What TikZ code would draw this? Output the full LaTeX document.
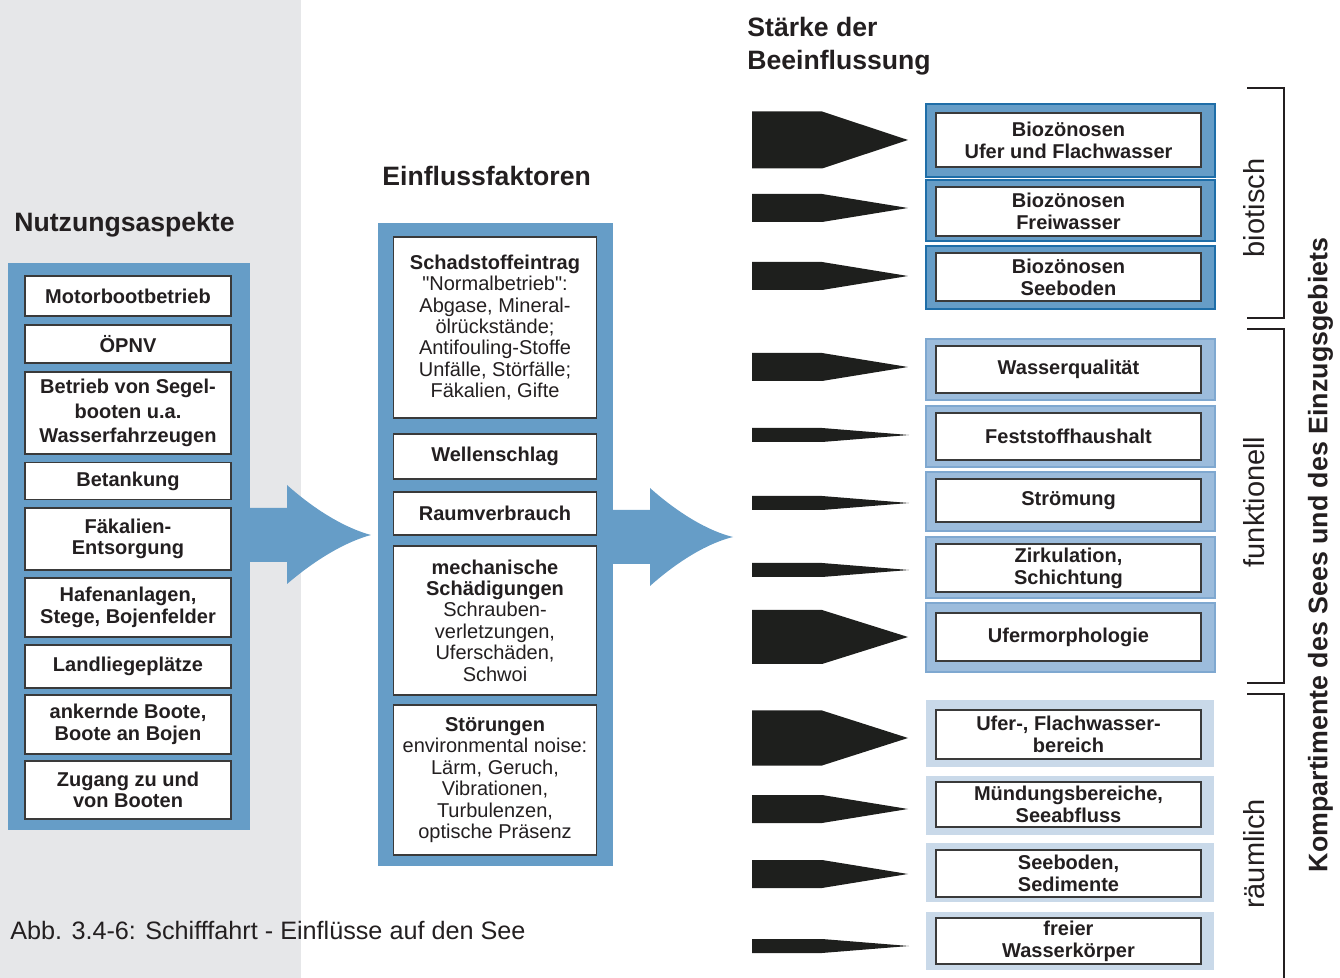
\documentclass[tikz,border=0pt]{standalone}
\usepackage{fontspec}
\setmainfont{Liberation Sans}
\newfontfamily\plainquote{Liberation Sans}

\definecolor{steelblue}{HTML}{669DC7}
\definecolor{bggrey}{HTML}{E6E7E9}
\definecolor{ink}{HTML}{231F20}
\definecolor{boxline}{HTML}{3A3A3A}
\definecolor{darkedge}{HTML}{1F6EA8}
\definecolor{midfill}{HTML}{9CBCDC}
\definecolor{midedge}{HTML}{7FA8D0}
\definecolor{palefill}{HTML}{C9D9E9}
\definecolor{wedgeblack}{HTML}{1E1F1D}

\begin{document}
\begin{tikzpicture}[
  x=0.5pt, y=-0.5pt,
  panel/.style={fill=steelblue, inner sep=0pt},
  lbox/.style={draw=boxline, line width=0.7pt, fill=white, inner sep=0pt,
    minimum width=103pt, align=center, text=ink,
    font=\fontsize{10}{10.8}\selectfont\bfseries},
  mbox/.style={lbox, minimum width=101.5pt, font=\fontsize{10}{10.7}\selectfont},
  rbox/.style={lbox, minimum width=132.5pt, font=\fontsize{10}{11}\selectfont\bfseries},
  bioframe/.style={fill=steelblue, draw=darkedge, line width=1pt, inner sep=0pt, minimum width=144.5pt},
  funframe/.style={fill=midfill, draw=midedge, line width=1pt, inner sep=0pt, minimum width=144.5pt},
  raumframe/.style={fill=palefill, inner sep=0pt, minimum width=144pt},
  heading/.style={anchor=base west, inner sep=0pt, text=ink, font=\fontsize{13.3}{16.5}\selectfont\bfseries},
  sidelbl/.style={rotate=90, inner sep=0pt, text=ink, font=\fontsize{14.5}{16}\selectfont},
  impact/.style={fill=wedgeblack},
  bracket/.style={draw=ink, line width=1pt}
]
  \useasboundingbox (0,0) rectangle (1340,978);
  \fill[bggrey] (0,0) rectangle (301,978);

  % Nutzungsaspekte
  \node[heading] (nutz) at (14,231.5) {Nutzungsaspekte};
  \node[panel, minimum width=121pt, minimum height=283.5pt] (usepanel) at (129,546.5) {};
  \node[lbox, minimum height=20pt] (motor) at (128,296) {Motorbootbetrieb};
  \node[lbox, minimum height=19pt] (opnv) at (128,344) {ÖPNV};
  \node[lbox, minimum height=41pt, font=\fontsize{10}{12.2}\selectfont\bfseries] (segel) at (128,413) {Betrieb von Segel-\\booten u.a.\\Wasserfahrzeugen};
  \node[lbox, minimum height=18.5pt] (tank) at (128,481) {Betankung};
  \node[lbox, minimum height=31pt] (faek) at (128,539) {Fäkalien-\\Entsorgung};
  \node[lbox, minimum height=29.5pt] (hafen) at (128,607.5) {Hafenanlagen,\\Stege, Bojenfelder};
  \node[lbox, minimum height=21.5pt] (land) at (128,666.5) {Landliegeplätze};
  \node[lbox, minimum height=29.5pt] (anker) at (128,724.5) {ankernde Boote,\\Boote an Bojen};
  \node[lbox, minimum height=29pt] (zugang) at (128,790) {Zugang zu und\\von Booten};

  % broad arrow to the factors
  \fill[steelblue] (250,508) -- (287,508) -- (287,485)
    .. controls (315,510) and (345,528) .. (371,535)
    .. controls (345,542) and (315,560) .. (287,584) -- (287,562) -- (250,562) -- cycle;

  % Einflussfaktoren
  \node[heading] (einfl) at (382,185.5) {Einflussfaktoren};
  \node[panel, minimum width=117.5pt, minimum height=321.5pt] (faktpanel) at (495.5,544.5) {};
  \node[mbox, minimum height=90.5pt] (schad) at (495,327.5) {\textbf{Schadstoffeintrag}\\{\plainquote"}Normalbetrieb{\plainquote"}:\\Abgase, Mineral-\\ölrückstände;\\Antifouling-Stoffe\\Unfälle, Störfälle;\\Fäkalien, Gifte};
  \node[mbox, minimum height=22.5pt] (wellen) at (495,456.5) {\textbf{Wellenschlag}};
  \node[mbox, minimum height=21.5pt] (raum) at (495,513.5) {\textbf{Raumverbrauch}};
  \node[mbox, minimum height=74.5pt] (mech) at (495,620.5) {\textbf{mechanische}\\\textbf{Schädigungen}\\Schrauben-\\verletzungen,\\Uferschäden,\\Schwoi};
  \node[mbox, minimum height=75pt] (stoer) at (495,780) {\textbf{Störungen}\\environmental noise:\\Lärm, Geruch,\\Vibrationen,\\Turbulenzen,\\optische Präsenz};

  % broad arrow to the compartments
  \fill[steelblue] (613,510) -- (650,510) -- (650,488)
    .. controls (678,513) and (708,531) .. (733,537)
    .. controls (708,543) and (678,561) .. (650,586) -- (650,564) -- (613,564) -- cycle;

  % Staerke der Beeinflussung
  \node[heading] (staerke) at (747,36.5) {Stärke der};
  \node[heading] (beein) at (747,69.5) {Beeinflussung};
  \fill[impact] (752,111.5) -- (822,111.5) -- (908,140) -- (822,168.5) -- (752,168.5) -- cycle;
  \fill[impact] (752,194) -- (822,194) -- (908,208) -- (822,222) -- (752,222) -- cycle;
  \fill[impact] (752,262) -- (822,262) -- (908,276) -- (822,290) -- (752,290) -- cycle;
  \fill[impact] (752,353) -- (822,353) -- (908,367) -- (822,381) -- (752,381) -- cycle;
  \fill[impact] (752,428) -- (822,428) -- (909,435) -- (822,442) -- (752,442) -- cycle;
  \fill[impact] (752,496) -- (822,496) -- (909,503) -- (822,510) -- (752,510) -- cycle;
  \fill[impact] (752,563) -- (822,563) -- (909,570) -- (822,577) -- (752,577) -- cycle;
  \fill[impact] (752,610) -- (822,610) -- (908,637) -- (822,664) -- (752,664) -- cycle;
  \fill[impact] (752,710.5) -- (822,710.5) -- (908,738) -- (822,765.5) -- (752,765.5) -- cycle;
  \fill[impact] (752,795) -- (822,795) -- (908,809) -- (822,823) -- (752,823) -- cycle;
  \fill[impact] (752,860) -- (822,860) -- (908,874) -- (822,888) -- (752,888) -- cycle;
  \fill[impact] (752,939) -- (822,939) -- (909,946) -- (822,953) -- (752,953) -- cycle;

  % biotisch
  \node[bioframe, minimum height=36.5pt] (f1) at (1070.5,140.5) {};
  \node[rbox, minimum height=27pt] (bioufer) at (1068.5,140) {Biozönosen\\Ufer und Flachwasser};
  \node[bioframe, minimum height=30.5pt] (f2) at (1070.5,210.5) {};
  \node[rbox, minimum height=24.5pt] (biofrei) at (1068.5,211.5) {Biozönosen\\Freiwasser};
  \node[bioframe, minimum height=31.5pt] (f3) at (1070.5,277.5) {};
  \node[rbox, minimum height=24pt] (bioboden) at (1068.5,277) {Biozönosen\\Seeboden};

  % funktionell
  \node[funframe, minimum height=30.5pt] (f4) at (1070.5,369.5) {};
  \node[rbox, minimum height=23.5pt] (wq) at (1068.5,369.5) {Wasserqualität};
  \node[funframe, minimum height=30.5pt] (f5) at (1070.5,436.5) {};
  \node[rbox, minimum height=23.5pt] (fest) at (1068.5,436.5) {Feststoffhaushalt};
  \node[funframe, minimum height=29.5pt] (f6) at (1070.5,501.5) {};
  \node[rbox, minimum height=21.5pt] (stroem) at (1068.5,500.5) {Strömung};
  \node[funframe, minimum height=30.5pt] (f7) at (1070.5,567.5) {};
  \node[rbox, minimum height=24pt] (zirk) at (1068.5,568) {Zirkulation,\\Schichtung};
  \node[funframe, minimum height=34.5pt] (f8) at (1070.5,637.5) {};
  \node[rbox, minimum height=24pt] (ufermorph) at (1068.5,637) {Ufermorphologie};

  % raeumlich
  \node[raumframe, minimum height=33.5pt] (f9) at (1070,733.5) {};
  \node[rbox, minimum height=24.5pt] (flach) at (1068.5,734.5) {Ufer-, Flachwasser-\\bereich};
  \node[raumframe, minimum height=29.5pt] (f10) at (1070,805.5) {};
  \node[rbox, minimum height=22.5pt] (muend) at (1068.5,804.5) {Mündungsbereiche,\\Seeabfluss};
  \node[raumframe, minimum height=29.5pt] (f11) at (1070,872.5) {};
  \node[rbox, minimum height=23.5pt] (seeboden) at (1068.5,873.5) {Seeboden,\\Sedimente};
  \node[raumframe, minimum height=29pt] (f12) at (1070,941) {};
  \node[rbox, minimum height=23pt] (freier) at (1068.5,941) {freier\\Wasserkörper};

  % brackets and side labels
  \draw[bracket] (1247,88) -- (1284,88) -- (1284,318) -- (1247,318);
  \draw[bracket] (1247,329) -- (1284,329) -- (1284,683) -- (1247,683);
  \draw[bracket] (1247,694) -- (1284,694) -- (1284,985);
  \node[sidelbl] (biot) at (1254,208) {biotisch};
  \node[sidelbl] (funk) at (1254,502) {funktionell};
  \node[sidelbl] (raeuml) at (1254,854) {räumlich};
  \node[rotate=90, inner sep=0pt, text=ink, font=\fontsize{13.4}{16}\selectfont\bfseries] (kompart) at (1320.5,555) {Kompartimente des Sees und des Einzugsgebiets};

  % caption
  \node[anchor=base west, inner sep=0pt, text=ink, font=\fontsize{12.6}{14}\selectfont] (caption) at (10,939) {Abb. 3.4-6: Schifffahrt - Einflüsse auf den See};
\end{tikzpicture}
\end{document}
